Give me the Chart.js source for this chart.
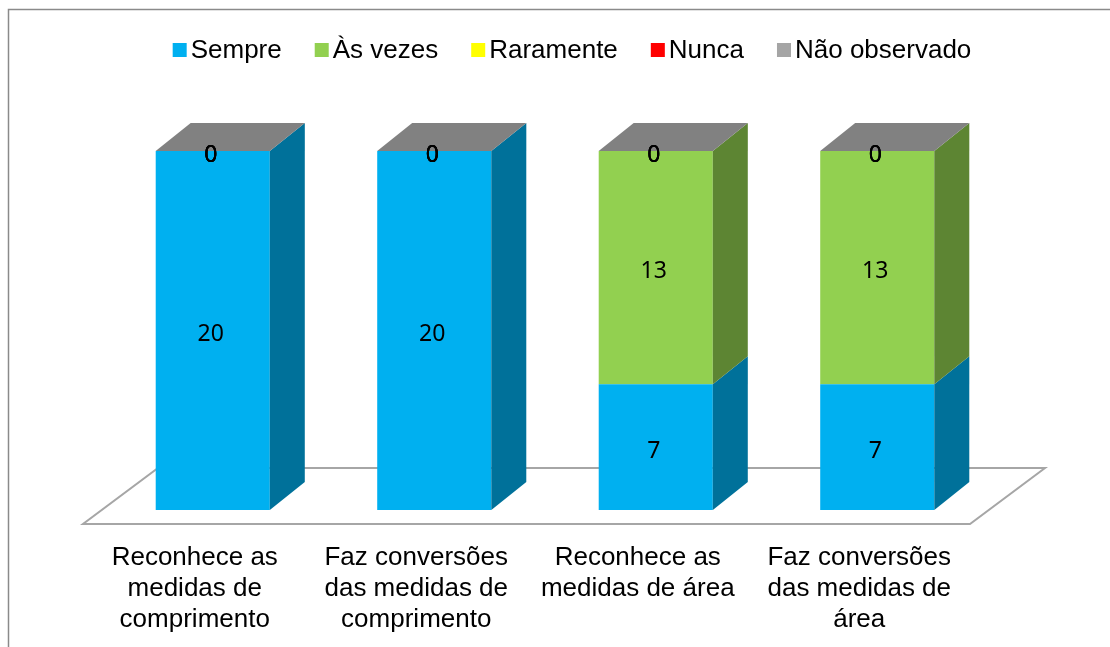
<!DOCTYPE html>
<html lang="pt">
<head>
<meta charset="utf-8">
<title>Medidas de comprimento e de área</title>
<script src="https://cdn.jsdelivr.net/npm/chart.js@4"></script>
<style>
  html, body { margin: 0; background: #fff; }
  canvas { display: block; }
</style>
</head>
<body>
<canvas id="bar-chart-medidas" width="1110" height="647"></canvas>
<script>
/*
Gráfico de colunas empilhadas (aspecto 3D) - frequência por item observado
*/

const categorias = [
  ['Reconhece as', 'medidas de', 'comprimento'],
  ['Faz conversões', 'das medidas de', 'comprimento'],
  ['Reconhece as', 'medidas de área'],
  ['Faz conversões', 'das medidas de', 'área'],
];

const sempre = [20, 20, 7, 7];
const asVezes = [0, 0, 13, 13];
const raramente = [0, 0, 0, 0];
const nunca = [0, 0, 0, 0];
const naoObservado = [0, 0, 0, 0];

const nomesSeries = ['Sempre', 'Às vezes', 'Raramente', 'Nunca', 'Não observado'];
const coresSeries = ['#00B0F0', '#92D050', '#FFFF00', '#FF0000', '#A5A5A5'];

const medidasCanvas = document
  .getElementById('bar-chart-medidas')
  .getContext('2d');

/* profundidade das colunas e do piso (em px) */
const prof = { dx: 35, dy: 28 };

function escurecer(hex, f) {
  const n = parseInt(hex.slice(1), 16);
  const r = Math.round(((n >> 16) & 255) * f);
  const g = Math.round(((n >> 8) & 255) * f);
  const b = Math.round((n & 255) * f);
  return `rgb(${r}, ${g}, ${b})`;
}

function poligono(ctx, pts, fill, stroke, lw) {
  ctx.beginPath();
  ctx.moveTo(pts[0][0], pts[0][1]);
  for (let i = 1; i < pts.length; i++) ctx.lineTo(pts[i][0], pts[i][1]);
  ctx.closePath();
  if (fill) {
    ctx.fillStyle = fill;
    ctx.fill();
  }
  if (stroke) {
    ctx.strokeStyle = stroke;
    ctx.lineWidth = lw;
    ctx.stroke();
  }
}

const efeito3d = {
  id: 'efeito3d',
  beforeDraw(chart) {
    const { ctx, chartArea: a } = chart;
    ctx.save();
    ctx.fillStyle = '#fff';
    ctx.fillRect(0, 0, chart.width, chart.height);
    /* moldura */
    ctx.strokeStyle = '#8A8A8A';
    ctx.lineWidth = 1.5;
    ctx.strokeRect(8.5, 9.5, 1300, 900);
    /* piso */
    poligono(
      ctx,
      [
        [a.left - 19, a.bottom + 14],
        [a.right - 18, a.bottom + 14],
        [a.right + 57, a.bottom - 42],
        [a.left + 56, a.bottom - 42],
      ],
      '#fff',
      '#A6A6A6',
      2
    );
    ctx.restore();
  },
  afterDatasetsDraw(chart) {
    const { ctx } = chart;
    const n = chart.data.datasets.length;
    ctx.save();
    /* faces laterais */
    for (let d = 0; d < n; d++) {
      const meta = chart.getDatasetMeta(d);
      const cor = chart.data.datasets[d].backgroundColor;
      meta.data.forEach((bar) => {
        if (bar.base - bar.y <= 0) return;
        const r = bar.x + bar.width / 2;
        poligono(
          ctx,
          [
            [r, bar.y],
            [r + prof.dx, bar.y - prof.dy],
            [r + prof.dx, bar.base - prof.dy],
            [r, bar.base],
          ],
          escurecer(cor, 0.64)
        );
      });
    }
    /* face superior (última série) */
    const topo = chart.getDatasetMeta(n - 1);
    const corTopo = chart.data.datasets[n - 1].backgroundColor;
    topo.data.forEach((bar) => {
      const l = bar.x - bar.width / 2;
      const r = bar.x + bar.width / 2;
      poligono(
        ctx,
        [
          [l, bar.y],
          [l + prof.dx, bar.y - prof.dy],
          [r + prof.dx, bar.y - prof.dy],
          [r, bar.y],
        ],
        escurecer(corTopo, 0.78)
      );
    });
    /* rótulos de dados */
    ctx.fillStyle = '#000';
    ctx.font = '23px "Noto Sans", sans-serif';
    ctx.textAlign = 'center';
    ctx.textBaseline = 'middle';
    for (let d = 0; d < n; d++) {
      const meta = chart.getDatasetMeta(d);
      meta.data.forEach((bar, i) => {
        const v = chart.data.datasets[d].data[i];
        ctx.fillText(String(v), bar.x - 2, (bar.y + bar.base) / 2 + 4);
      });
    }
    ctx.restore();
  },
  afterDraw(chart) {
    /* legenda */
    const { ctx } = chart;
    const caixa = 14;
    const folga = 4;
    const espaco = 33;
    ctx.save();
    ctx.font = '26px "Liberation Sans", Arial, sans-serif';
    const itens = chart.data.datasets.map((ds) => ({
      texto: ds.label,
      cor: ds.backgroundColor,
      w: ctx.measureText(ds.label).width,
    }));
    let total = espaco * (itens.length - 1);
    itens.forEach((it) => (total += caixa + folga + it.w));
    let x = 572 - total / 2;
    const y = 50;
    ctx.textAlign = 'left';
    ctx.textBaseline = 'middle';
    itens.forEach((it) => {
      ctx.fillStyle = it.cor;
      ctx.fillRect(x, y - caixa / 2, caixa, caixa);
      ctx.fillStyle = '#000';
      ctx.fillText(it.texto, x + caixa + folga, y + 1);
      x += caixa + folga + it.w + espaco;
    });
    ctx.restore();
  },
};

const seriesValores = [sempre, asVezes, raramente, nunca, naoObservado];

const dataMedidas = {
  labels: categorias,
  datasets: seriesValores.map((valores, i) => ({
    label: nomesSeries[i],
    data: valores,
    backgroundColor: coresSeries[i],
    borderWidth: 0,
    categoryPercentage: 0.515,
    barPercentage: 1,
  })),
};

const configMedidas = {
  type: 'bar',
  data: dataMedidas,
  options: {
    responsive: false,
    animation: false,
    events: [],
    layout: {
      padding: {
        top: 151,
        right: 122,
        bottom: 12,
        left: 102,
      },
    },
    plugins: {
      legend: { display: false },
      tooltip: { enabled: false },
    },
    scales: {
      x: {
        stacked: true,
        grid: { display: false, drawTicks: false },
        border: { display: false },
        afterFit(scale) {
          /* altura do eixo: 3 linhas de rótulo + espaçamento */
          scale.height = 125;
        },
        ticks: {
          color: '#000',
          padding: 32,
          labelOffset: -18,
          maxRotation: 0,
          autoSkip: false,
          font: {
            family: '"Liberation Sans", Arial, sans-serif',
            size: 26,
            lineHeight: 1.19,
          },
        },
      },
      y: {
        stacked: true,
        display: false,
        min: 0,
        max: 20,
      },
    },
  },
  plugins: [efeito3d],
};

new Chart(medidasCanvas, configMedidas);
</script>
</body>
</html>
